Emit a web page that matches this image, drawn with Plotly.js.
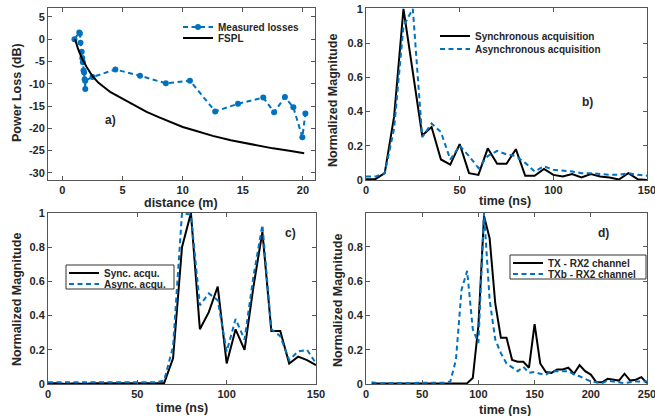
<!DOCTYPE html>
<html>
<head>
<meta charset="utf-8">
<script src="https://cdn.plot.ly/plotly-3.0.1.min.js"></script>
<style>html,body{margin:0;padding:0;background:#fff}#chart{width:655px;height:416px}</style>
</head>
<body>
<div id="chart"></div>
<script>
// ---- Panel a: power loss vs distance ----
var measDist = [1.0, 1.4, 1.45, 1.5, 1.6, 1.65, 1.7, 1.75, 1.8, 1.85, 1.9, 1.9, 2.5, 4.4, 6.45, 8.6, 10.6, 12.7, 14.6, 16.7, 17.6, 18.5, 19.2, 19.95, 20.2];
var measLoss = [0.0, 1.5, 1.3, -0.8, -2.8, -4.2, -5.2, -7.0, -7.5, -9.0, -11.2, -9.3, -8.5, -6.8, -8.2, -9.9, -9.3, -16.2, -14.5, -13.1, -16.4, -13.0, -15.3, -22.0, -16.7];
var fsplDist = [1.05, 1.3, 1.6, 2.0, 2.5, 3.0, 4.0, 5.0, 6.0, 7.0, 8.0, 9.0, 10.0, 11.0, 12.5, 14.0, 15.0, 16.0, 17.5, 19.0, 20.1];
var fsplLoss = [0.0, -2.2, -4.2, -6.2, -8.3, -9.8, -11.9, -13.4, -14.9, -16.3, -17.5, -18.6, -19.7, -20.5, -21.7, -22.7, -23.2, -23.8, -24.5, -25.1, -25.6];

// ---- Panel b: sync vs async acquisition ----
var timeB = [0,5,10,15,20,25,30,35,40,45,50,55,60,65,70,75,80,85,90,95,100,105,110,115,120,125,130,135,140,145,150];
var syncB = [0.005,0.005,0.04,0.37,1.0,0.63,0.26,0.31,0.12,0.09,0.21,0.04,0.03,0.185,0.095,0.095,0.18,0.025,0.025,0.065,0.03,0.02,0.035,0.015,0.035,0.02,0.015,0.003,0.04,0.005,0.0];
var asyncB = [0.02,0.02,0.04,0.3,0.9,1.0,0.25,0.33,0.28,0.12,0.2,0.14,0.07,0.14,0.17,0.15,0.14,0.1,0.05,0.08,0.06,0.055,0.05,0.04,0.04,0.035,0.03,0.03,0.04,0.03,0.025];

// ---- Panel c ----
var timeC = [0,5,10,15,20,25,30,35,40,45,50,55,60,65,70,75,80,85,90,95,100,105,110,115,120,125,130,135,140,145,150];
var syncC = [0.005,0.005,0.0,0.005,0.0,0.005,0.005,0.005,0.005,0.005,0.005,0.005,0.005,0.005,0.15,0.8,1.0,0.32,0.42,0.57,0.12,0.32,0.2,0.57,0.89,0.31,0.31,0.12,0.16,0.14,0.11];
var asyncC = [0.01,0.01,0.01,0.01,0.01,0.01,0.01,0.01,0.01,0.01,0.01,0.01,0.01,0.02,0.22,1.0,0.99,0.46,0.53,0.49,0.19,0.38,0.26,0.63,0.93,0.32,0.28,0.14,0.19,0.2,0.12];

// ---- Panel d ----
var timeD = [5,10,15,20,25,30,35,40,45,50,55,60,65,70,75,80,85,90,95,100,105,110,115,120,125,130,135,140,145,150,155,160,165,170,175,180,185,190,195,200,205,210,215,220,225,230,235,240,245,250];
var txD = [0.003,0.003,0.003,0.003,0.003,0.003,0.003,0.003,0.003,0.003,0.003,0.003,0.003,0.003,0.003,0.003,0.003,0.005,0.035,0.34,0.98,0.85,0.47,0.27,0.27,0.14,0.13,0.13,0.095,0.35,0.12,0.07,0.065,0.085,0.085,0.095,0.06,0.11,0.075,0.055,0.01,0.01,0.03,0.025,0.02,0.06,0.02,0.025,0.04,0.005];
var txbD = [0.01,0.005,0.005,0.005,0.008,0.005,0.005,0.005,0.005,0.005,0.008,0.008,0.008,0.008,0.015,0.14,0.55,0.66,0.32,0.24,1.0,0.49,0.26,0.18,0.12,0.1,0.075,0.1,0.065,0.07,0.06,0.055,0.075,0.075,0.075,0.075,0.055,0.045,0.03,0.015,0.01,0.005,0.02,0.015,0.01,0.005,0.01,0.015,0.015,0.015];

// tick labels
var tickA_y = [5,0,-5,-10,-15,-20,-25,-30];
var tickA_yText = ['5','0','-5','-10','-15','-20','-25','-30'];
var tickMag = [0,0.2,0.4,0.6,0.8,1];
var tickMagText = ['0','0.2','0.4','0.6','0.8','1'];

var BLUE = '#0072BD';
var DASH = '5px,3.5px';
var W = 655, H = 416;
function px(x){return x/W;}
function py(y){return 1 - y/H;}

var traces = [
  {x: measDist, y: measLoss, xaxis:'x', yaxis:'y', name:'Measured losses', mode:'lines+markers',
   line:{color:BLUE, width:2, dash:DASH}, marker:{color:BLUE, size:6}, legend:'legend'},
  {x: fsplDist, y: fsplLoss, xaxis:'x', yaxis:'y', name:'FSPL', mode:'lines',
   line:{color:'#000', width:2}, legend:'legend2'},
  {x: timeB, y: syncB, xaxis:'x2', yaxis:'y2', name:'Synchronous acquisition', mode:'lines',
   line:{color:'#000', width:2}, legend:'legend3'},
  {x: timeB, y: asyncB, xaxis:'x2', yaxis:'y2', name:'Asynchronous acquisition', mode:'lines',
   line:{color:BLUE, width:2, dash:DASH}, legend:'legend4'},
  {x: timeC, y: syncC, xaxis:'x3', yaxis:'y3', name:'Sync. acqu.', mode:'lines',
   line:{color:'#000', width:2}, legend:'legend5'},
  {x: timeC, y: asyncC, xaxis:'x3', yaxis:'y3', name:'Async. acqu.', mode:'lines',
   line:{color:BLUE, width:2, dash:DASH}, legend:'legend6'},
  {x: timeD, y: txD, xaxis:'x4', yaxis:'y4', name:'TX - RX2 channel', mode:'lines',
   line:{color:'#000', width:2}, legend:'legend7'},
  {x: timeD, y: txbD, xaxis:'x4', yaxis:'y4', name:'TXb - RX2 channel', mode:'lines',
   line:{color:BLUE, width:2, dash:DASH}, legend:'legend8'}
];

var FAM = '"Liberation Sans", Arial, sans-serif';
var TXT = '#262626';
function ax(extra){
  var base = {showline:true, mirror:'ticks', linecolor:'#555', linewidth:1, ticks:'inside', ticklen:4,
    tickcolor:'#555', showgrid:false, zeroline:false, automargin:false, ticklabeloverflow:'allow',
    tickfont:{family:FAM, size:11, color:TXT, weight:'bold'}};
  for (var k in extra) base[k] = extra[k];
  return base;
}
function leg(x, y){
  return {x:px(x), y:py(y), xanchor:'left', yanchor:'middle', bgcolor:'rgba(255,255,255,0)', borderwidth:0,
    font:{family:FAM, size:10, color:TXT, weight:'bold'}, itemwidth:30};
}
function ann(t, x, y, size, rot){
  var a = {text:t, x:px(x), y:py(y), xref:'paper', yref:'paper', showarrow:false, xanchor:'center', yanchor:'middle',
    font:{family:FAM, size:size, color:TXT, weight:'bold'}};
  if (rot) a.textangle = rot;
  return a;
}

var layout = {
  width: W, height: H, margin:{l:0,r:0,t:0,b:0}, paper_bgcolor:'#fff', plot_bgcolor:'#fff',
  font: {family:FAM, size:11, color:TXT, weight:'bold'}, showlegend:true,
  xaxis: ax({domain:[px(48), px(315)], range:[-1.2, 21], tickvals:[0,5,10,15,20], anchor:'y'}),
  yaxis: ax({domain:[py(180), py(8)], range:[-31.6, 7], tickvals:tickA_y, ticktext:tickA_yText, anchor:'x'}),
  xaxis2: ax({domain:[px(366), px(647)], range:[0,150], tickvals:[0,50,100,150], anchor:'y2'}),
  yaxis2: ax({domain:[py(180), py(8)], range:[0,1.005], tickvals:tickMag, ticktext:tickMagText, anchor:'x2'}),
  xaxis3: ax({domain:[px(48), px(316)], range:[0,150], tickvals:[0,50,100,150], anchor:'y3'}),
  yaxis3: ax({domain:[py(384), py(213)], range:[0,1.0], tickvals:tickMag, ticktext:tickMagText, anchor:'x3'}),
  xaxis4: ax({domain:[px(366), px(647)], range:[0,250], tickvals:[0,50,100,150,200,250], anchor:'y4'}),
  yaxis4: ax({domain:[py(384), py(213)], range:[0,0.998], tickvals:tickMag.slice(0,5), ticktext:tickMagText.slice(0,5), anchor:'x4'}),
  legend: leg(178, 27),
  legend2: leg(178, 38),
  legend3: leg(435, 36),
  legend4: leg(435, 49),
  legend5: leg(64, 273),
  legend6: leg(64, 284),
  legend7: leg(508, 263),
  legend8: leg(508, 274),
  shapes: [
    {type:'rect', xref:'paper', yref:'paper', x0:px(66), x1:px(174), y0:py(265), y1:py(289),
     line:{color:'#333', width:1}, fillcolor:'#fff', layer:'above'},
    {type:'rect', xref:'paper', yref:'paper', x0:px(510), x1:px(646), y0:py(255), y1:py(279),
     line:{color:'#333', width:1}, fillcolor:'#fff', layer:'above'}
  ],
  annotations: [
    ann('a)', 110, 120, 12), ann('b)', 587, 102, 12), ann('c)', 290, 233, 12), ann('d)', 603, 233, 12),
    ann('distance (m)', 181, 203, 12.5), ann('time (ns)', 505, 201, 12.5),
    ann('time (ns)', 182, 408, 12.5), ann('time (ns)', 505, 410, 12.5),
    ann('Power Loss (dB)', 17, 93, 12.5, -90), ann('Normalized Magnitude', 333, 101, 12.5, -90),
    ann('Normalized Magnitude', 17, 300, 12.5, -90), ann('Normalized Magnitude', 338, 300, 12.5, -90)
  ]
};

Plotly.newPlot('chart', traces, layout, {displayModeBar:false, staticPlot:true});
</script>
</body>
</html>
